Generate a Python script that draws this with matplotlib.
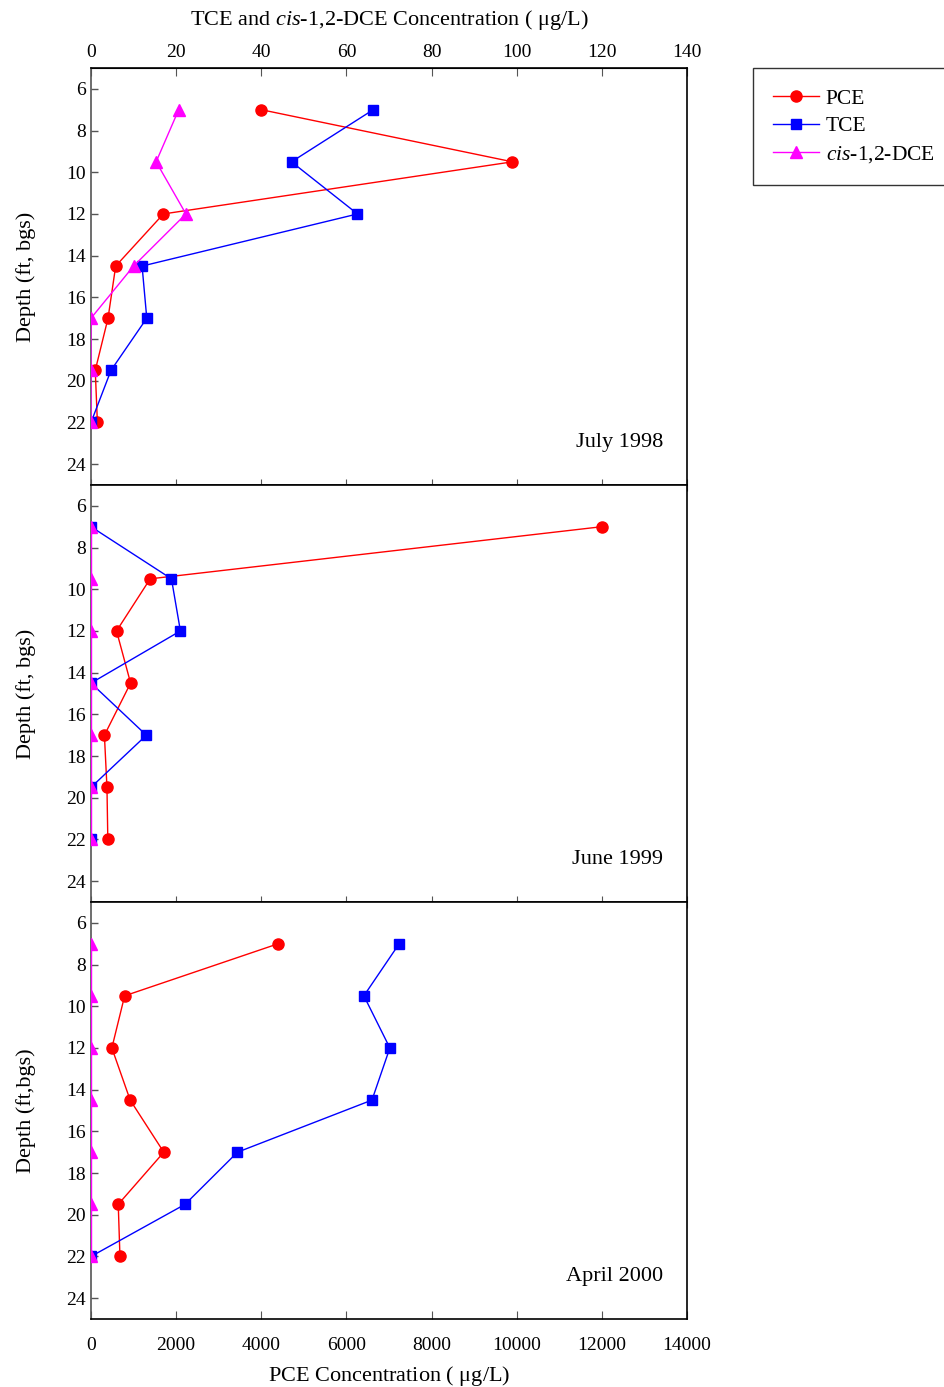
import matplotlib
matplotlib.use("Agg")
import matplotlib.pyplot as plt
from matplotlib.lines import Line2D

plt.rcParams['font.family'] = 'serif'
plt.rcParams['font.serif'] = ['Liberation Serif', 'DejaVu Serif']
plt.rcParams['mathtext.fontset'] = 'custom'
plt.rcParams['mathtext.rm'] = 'Liberation Serif'
plt.rcParams['mathtext.it'] = 'Liberation Serif:italic'

depth = [7, 9.5, 12, 14.5, 17, 19.5, 22]

# PCE in ug/L (bottom axis), TCE and cis-1,2-DCE in ug/L (top axis)
pce_1998 = [4000, 9900, 1700, 580, 400, 100, 150]
tce_1998 = [66.3, 47.1, 62.6, 12.0, 13.1, 4.7, 0]
dce_1998 = [20.6, 15.3, 22.3, 10.0, 0, 0, 0]

pce_1999 = [12000, 1390, 600, 930, 315, 375, 395]
tce_1999 = [0, 18.9, 21.0, 0, 13.0, 0, 0]
dce_1999 = [0, 0, 0, 0, 0, 0, 0]

pce_2000 = [4400, 790, 490, 920, 1710, 640, 680]
tce_2000 = [72.4, 64.1, 70.2, 66.0, 34.4, 22.1, 0]
dce_2000 = [0, 0, 0, 0, 0, 0, 0]

panels = [
    ("July 1998", pce_1998, tce_1998, dce_1998, "Depth (ft, bgs)"),
    ("June 1999", pce_1999, tce_1999, dce_1999, "Depth (ft, bgs)"),
    ("April 2000", pce_2000, tce_2000, dce_2000, "Depth (ft,bgs)"),
]

scale = 100.0  # top axis = bottom axis / 100

fig = plt.figure(figsize=(9.45, 13.87), dpi=100)
left, width = 91/945, 596/945
tops = [68, 485, 902]
h = 417/1387
axes = []
for i, (lab, pce, tce, dce, ylab) in enumerate(panels):
    bottom = 1 - (tops[i] + 417)/1387
    ax = fig.add_axes([left, bottom, width, h])
    ax.plot(pce, depth, color='red', marker='o', ms=8, lw=1, zorder=3)
    ax.plot([v*scale for v in tce], depth, color='blue', marker='s', ms=7, lw=1, zorder=4)
    ax.plot([v*scale for v in dce], depth, color='magenta', marker='^', ms=8, lw=1, zorder=5)
    ax.set_xlim(0, 14000)
    ax.set_ylim(25, 5)
    ax.set_yticks(range(6, 25, 2))
    ax.set_xticks(range(0, 14001, 2000))
    ax.tick_params(axis='y', direction='in', length=5, labelsize=14, width=1, color='#555555')
    if i < 2:
        ax.tick_params(axis='x', direction='inout', length=8, labelbottom=False, color='#555555')
    else:
        ax.tick_params(axis='x', direction='in', length=6, labelsize=14, pad=13, color='#555555')
        ax.set_xlabel(r"PCE Concentration ( $\mathrm{\mu}$g/L)", fontsize=16, labelpad=7)
    ax.set_ylabel(ylab, fontsize=16, labelpad=22)
    ax.text(0.96, 0.08, lab, transform=ax.transAxes, ha='right', va='bottom', fontsize=16)
    for sp in ax.spines.values():
        sp.set_linewidth(1.2)
    ax.spines['left'].set_color('#555555')
    axes.append(ax)

top = axes[0].secondary_xaxis('top', functions=(lambda x: x/scale, lambda x: x*scale))
top.set_xticks(range(0, 141, 20))
top.tick_params(direction='in', length=6, labelsize=14, pad=5, color='#555555')
top.set_xlabel(r"TCE and $\mathit{cis}$-1,2-DCE Concentration ( $\mathrm{\mu}$g/L)", fontsize=16, labelpad=14)

handles = [
    Line2D([], [], color='red', marker='o', ms=8, lw=1),
    Line2D([], [], color='blue', marker='s', ms=7, lw=1),
    Line2D([], [], color='magenta', marker='^', ms=8, lw=1),
]
leg = fig.legend(handles, ["PCE", "TCE", r"$\mathit{cis}$-1,2-DCE"],
                 loc='upper left', bbox_to_anchor=(753/945, 1 - 68/1387),
                 fontsize=15.5, frameon=True, fancybox=False, edgecolor='black',
                 handlelength=2.1, handletextpad=0.33, borderpad=0.95,
                 labelspacing=0.36, borderaxespad=0)
leg.get_frame().set_linewidth(1.0)

fig.savefig("out.png", dpi=100)
